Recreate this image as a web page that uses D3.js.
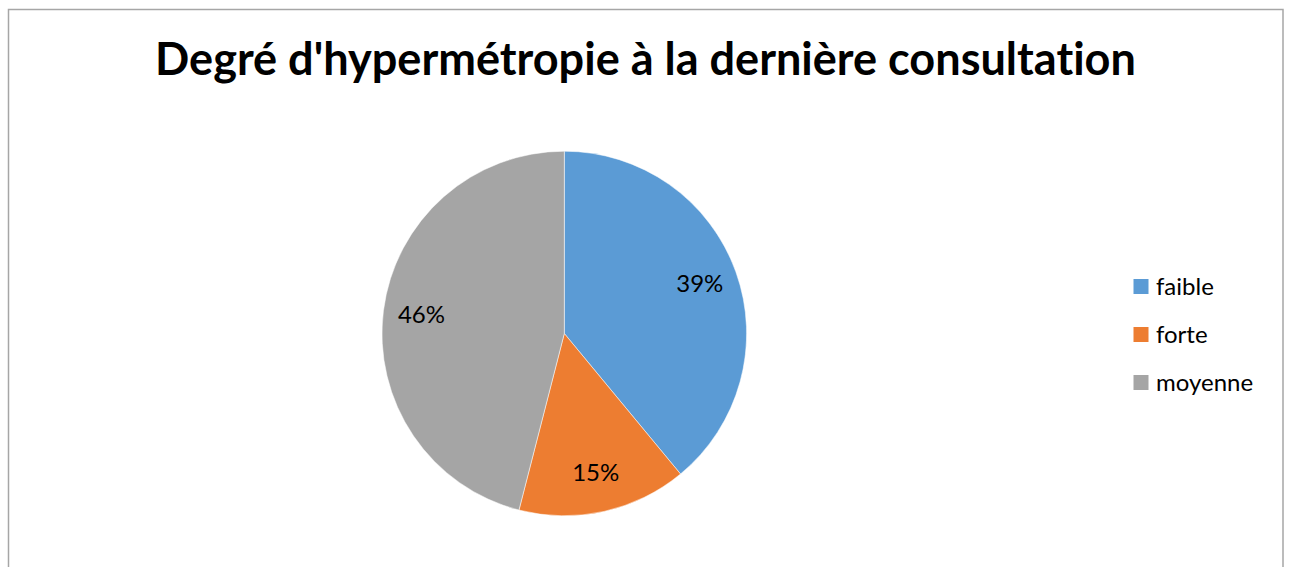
<!DOCTYPE html>
<html>
<head>
<meta charset="utf-8">
<script src="https://cdn.jsdelivr.net/npm/d3@7"></script>
<style>
  body { margin: 0; background: #fff; }
  svg { display: block; }
  text { font-variant-ligatures: none; font-feature-settings: "liga" 0, "clig" 0; }
</style>
</head>
<body>
<div id="chart"></div>
<script>
"use strict";

// Chart data
const titleText = "Degré d'hypermétropie à la dernière consultation";
const categories = ["faible", "forte", "moyenne"];
const values = [39, 15, 46];
const colors = ["#5B9BD5", "#ED7D31", "#A5A5A5"];

const width = 1290, height = 567;
const fontFamily = "Lato, 'Open Sans', sans-serif";

// Create svg canvas
let svg = d3.select("#chart").append("svg")
  .attr("width", width)
  .attr("height", height);

// Chart area border
svg.append("rect")
  .attr("x", 8.5)
  .attr("y", 9.5)
  .attr("width", 1274.5)
  .attr("height", 600)
  .attr("fill", "#fff")
  .attr("stroke", "#A6A6A6")
  .attr("stroke-width", 1.5);

// Title, sized to fit the reference width
let title = svg.append("text")
  .attr("x", 645.5)
  .attr("y", 75)
  .attr("text-anchor", "middle")
  .attr("font-family", fontFamily)
  .attr("font-weight", "bold")
  .attr("font-size", 40)
  .attr("fill", "#000")
  .text(titleText);
let tw = title.node().getComputedTextLength();
title.attr("font-size", 40 * 981 / tw);

// Pie
let cx = 564.3, cy = 333.5, radius = 182.3;
let pie = d3.pie().sort(null).value(d => d);
let arcs = pie(values);
let arc = d3.arc().innerRadius(0).outerRadius(radius);
let labelArc = d3.arc().innerRadius(radius * 0.79).outerRadius(radius * 0.79);

let g = svg.append("g").attr("transform", `translate(${cx},${cy})`);

g.selectAll("path")
  .data(arcs)
  .enter().append("path")
  .attr("d", arc)
  .attr("fill", (d, i) => colors[i])
  .attr("stroke", "#fff")
  .attr("stroke-width", 0.5);

// Percentage labels
let total = d3.sum(values);
g.selectAll("text.label")
  .data(arcs)
  .enter().append("text")
  .attr("class", "label")
  .attr("transform", d => `translate(${labelArc.centroid(d)})`)
  .attr("dy", "0.3em")
  .attr("text-anchor", "middle")
  .attr("font-family", fontFamily)
  .attr("font-size", 24)
  .attr("fill", "#000")
  .text(d => Math.round(d.value / total * 100) + "%");

// Legend
let legend = svg.append("g");
let ly = d3.scalePoint().domain(categories).range([286.5, 382.5]);

categories.forEach(function(cat, i) {
  let eg = legend.append("g");
  eg.append("rect")
    .attr("x", 1133.5)
    .attr("y", ly(cat) - 7.5)
    .attr("width", 15)
    .attr("height", 15)
    .attr("fill", colors[i]);
  eg.append("text")
    .attr("x", 1156)
    .attr("y", ly(cat))
    .attr("dy", "0.35em")
    .attr("font-family", fontFamily)
    .attr("font-size", 24)
    .attr("fill", "#000")
    .text(cat);
});
</script>
</body>
</html>
